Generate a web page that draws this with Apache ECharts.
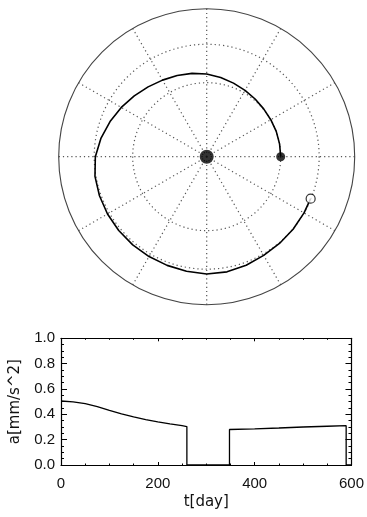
<!DOCTYPE html>
<html>
<head>
<meta charset="utf-8">
<script src="https://cdn.jsdelivr.net/npm/echarts@6/dist/echarts.min.js"></script>
<style>html,body{margin:0;padding:0;background:#fff}#c{width:367px;height:517px}</style>
</head>
<body>
<div id="c"></div>
<script>
// Trajectory (polar): angle in degrees, radius in AU
var trajAngle = [0,10,20,30,40,50,60,70,80,90,100,110,120,130,140,150,160,170,180,190,200,210,220,230,240,250,260,270,280,290,300,310,320,330,338];
var trajRadius = [1.0,1.0,1.0,1.0,1.005,1.018,1.036,1.058,1.088,1.118,1.143,1.167,1.195,1.232,1.278,1.333,1.39,1.45,1.505,1.533,1.542,1.548,1.552,1.555,1.558,1.563,1.572,1.585,1.58,1.56,1.54,1.53,1.524,1.519,1.515];
var orbitRadii = [1.0, 1.52];           // Earth & Mars orbits (dotted circles)
var sunPos = [0, 0];                    // [radius, angle]
var earthPos = [1.0, 0];
var marsPos = [1.515, 338];

// Acceleration profile
var tDay = [0,25,50,75,100,125,150,175,200,225,250,260,260,348,348,400,450,500,550,589,589,600];
var accel = [0.505,0.499,0.484,0.460,0.431,0.404,0.380,0.359,0.341,0.325,0.310,0.303,0,0,0.28,0.285,0.292,0.300,0.306,0.31,0,0];
var yTicks = ['0.0','0.2','0.4','0.6','0.8','1.0'];
var xTicks = ['0','200','400','600'];

var traj = trajAngle.map(function(a,i){return [trajRadius[i], a];});
var accData = tDay.map(function(t,i){return [t, accel[i]];});

var TICKFONT = 'Liberation Sans';
var NAMEFONT = 'DejaVu Sans';
var dotted = {color:'#555', width:1.2, type:[1.2,3]};

var chart = echarts.init(document.getElementById('c'), null, {renderer:'canvas'});
chart.setOption({
  animation:false,
  backgroundColor:'#fff',
  polar:{center:[206.7,156.7], radius:148},
  angleAxis:{type:'value', min:0, max:360, interval:30, startAngle:0, clockwise:false,
    axisLine:{show:true, lineStyle:{color:'#444', width:1.1}},
    axisTick:{show:false}, axisLabel:{show:false},
    splitLine:{show:true, lineStyle:dotted}},
  radiusAxis:{type:'value', min:0, max:2,
    axisLine:{show:false}, axisLabel:{show:false},
    axisTick:{show:false, customValues:orbitRadii},
    splitLine:{show:true, lineStyle:dotted}},
  grid:{left:59.3, right:13.7, top:338.3, height:126.7},
  xAxis:[
    {type:'value', position:'bottom', min:0, max:600, interval:200,
     axisLine:{show:true, onZero:false, lineStyle:{color:'#000', width:1.2}},
     axisTick:{inside:true, length:3, lineStyle:{color:'#000'}},
     minorTick:{show:true, splitNumber:4, length:1.5, lineStyle:{color:'#000'}},
     axisLabel:{color:'#111', fontSize:15, margin:11, fontFamily:TICKFONT,
       formatter:function(v){return xTicks[Math.round(v/200)];}},
     splitLine:{show:false},
     name:'t[day]', nameLocation:'middle', nameGap:30,
     nameTextStyle:{color:'#111', fontSize:15, fontFamily:NAMEFONT}},
    {type:'value', position:'top', min:0, max:600, interval:200,
     axisLine:{show:true, onZero:false, lineStyle:{color:'#000', width:1.2}},
     axisTick:{inside:true, length:3, lineStyle:{color:'#000'}},
     minorTick:{show:true, splitNumber:4, length:1.5, lineStyle:{color:'#000'}},
     axisLabel:{show:false}, splitLine:{show:false}}
  ],
  yAxis:[
    {type:'value', position:'left', min:0, max:1, interval:0.2,
     axisLine:{show:true, onZero:false, lineStyle:{color:'#000', width:1.2}},
     axisTick:{inside:true, length:6, lineStyle:{color:'#000'}},
     minorTick:{show:true, splitNumber:4, length:3, lineStyle:{color:'#000'}},
     axisLabel:{color:'#111', fontSize:15, margin:6, fontFamily:TICKFONT,
       formatter:function(v){return yTicks[Math.round(v/0.2)];}},
     splitLine:{show:false},
     name:'a[mm/s^2]', nameLocation:'middle', nameGap:38,
     nameTextStyle:{color:'#111', fontSize:15, fontFamily:NAMEFONT}},
    {type:'value', position:'right', min:0, max:1, interval:0.2,
     axisLine:{show:true, onZero:false, lineStyle:{color:'#000', width:1.2}},
     axisTick:{inside:true, length:6, lineStyle:{color:'#000'}},
     minorTick:{show:true, splitNumber:4, length:3, lineStyle:{color:'#000'}},
     axisLabel:{show:false}, splitLine:{show:false}}
  ],
  series:[
    {type:'line', coordinateSystem:'polar', data:traj, smooth:false, showSymbol:false,
     lineStyle:{color:'#000', width:1.6, join:'round'}, z:5},
    {type:'scatter', coordinateSystem:'polar', data:[sunPos], symbol:'circle', symbolSize:14,
     itemStyle:{color:'#000'}, z:6},
    {type:'scatter', coordinateSystem:'polar', data:[earthPos], symbol:'circle', symbolSize:9,
     itemStyle:{color:'#000'}, z:6},
    {type:'scatter', coordinateSystem:'polar', data:[marsPos], symbol:'circle', symbolSize:9,
     itemStyle:{color:'#fff', borderColor:'#000', borderWidth:1.2}, z:6},
    {type:'line', xAxisIndex:0, yAxisIndex:0, data:accData, showSymbol:false,
     lineStyle:{color:'#000', width:1.3}, z:5}
  ]
});
</script>
</body>
</html>
